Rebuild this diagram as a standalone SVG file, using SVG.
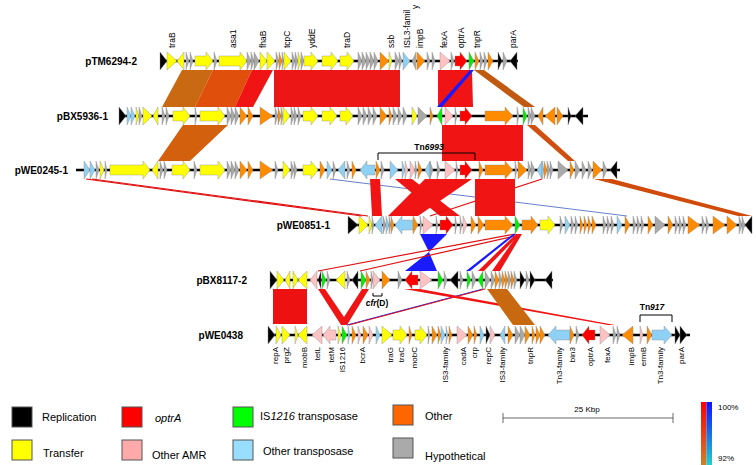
<svg xmlns="http://www.w3.org/2000/svg" width="756" height="465" viewBox="0 0 756 465">
<style>
polygon.g,.gn polygon{stroke:#8a8a8a;stroke-width:0.4}
.k{fill:#000}.y{fill:#ffff00}.o{fill:#ff8c00}.h{fill:#a9a9a9}.p{fill:#ffc2c2}.b{fill:#8fd0f5}.r{fill:#ff0000}.n{fill:#00ee00}
.bb{stroke:#000;stroke-width:2.5}
.lab{font-family:"Liberation Sans",Arial,sans-serif;font-weight:bold;font-size:10px;fill:#000;text-anchor:end}
.gl{font-family:"Liberation Sans",Arial,sans-serif;font-size:8.5px;fill:#000}
.bl{font-family:"Liberation Sans",Arial,sans-serif;font-size:8px;fill:#000;text-anchor:end}
.leg{font-family:"Liberation Sans",Arial,sans-serif;font-size:11px;fill:#000}
.tn{font-family:"Liberation Sans",Arial,sans-serif;font-size:8.5px;font-weight:bold;fill:#000;text-anchor:middle}
.br{fill:none;stroke:#000;stroke-width:1}
.sq{stroke:#555;stroke-width:1}
.cr{fill:#f01414}.cb{fill:#1a1aff}
</style>
<defs>
<linearGradient id="gr1" x1="0" y1="0" x2="0" y2="1"><stop offset="0" stop-color="#ff0000"/><stop offset="1" stop-color="#d0802a"/></linearGradient>
<linearGradient id="gr2" x1="0" y1="0" x2="0" y2="1"><stop offset="0" stop-color="#1010ff"/><stop offset="1" stop-color="#20d0d0"/></linearGradient>
</defs>
<rect width="756" height="465" fill="#fff"/>

<g id="connectors">
<polygon fill="#c96a12" points="182,70 213,70 195,107 162,107"/>
<polygon fill="#e0500c" points="213,70 252,70 235,107 195,107"/>
<polygon class="cr" points="252,70 273,70 253,107 235,107"/>
<polygon fill="#ec1616" points="274,70 400,70 400,107 274,107"/>
<polygon class="cr" points="438,70 472,70 473,107 438,107"/>
<polygon class="cb" points="470,70 474,70 442,107 437,107"/>
<polygon fill="#c05a10" points="474,70 484,70 535,107 524,107"/>
<polygon fill="#d2600c" points="183,125 228,125 190,161 158,161"/>
<polygon class="cr" points="442,125 523,125 523,161 442,161"/>
<polygon fill="#d05010" points="527,125 535,125 575,161 568,161"/>
<line x1="86" y1="179" x2="362" y2="216" stroke="#e01010" stroke-width="1.2"/>
<line x1="92" y1="179" x2="368" y2="216" stroke="#e01010" stroke-width="1.2"/>
<line x1="330" y1="179" x2="627" y2="216" stroke="#4060c0" stroke-width="0.8"/>
<polygon class="cr" points="370,179 380,179 382,216 372,216"/>
<polygon class="cr" points="395,179 412,179 460,216 440,216"/>
<polygon class="cr" points="425,179 472,179 418,216 388,216"/>
<line x1="542" y1="179" x2="430" y2="216" stroke="#e01010" stroke-width="1.2"/>
<polygon class="cr" points="475,179 515,179 515,216 475,216"/>
<polygon fill="#d04a0a" points="594,179 612,179 752,216 738,216"/>
<polygon class="cb" points="420,234 447,234 429,252"/>
<polygon class="cb" points="429,252 405,271 437,271"/>
<line x1="515" y1="234" x2="318" y2="271" stroke="#e01010" stroke-width="1.2"/>
<line x1="515" y1="236" x2="360" y2="271" stroke="#e01010" stroke-width="1.2"/>
<polygon class="cb" points="513,234 516,234 470,271 466,271"/>
<polygon class="cr" points="516,234 520,234 484,271 478,271"/>
<polygon class="cr" points="518,234 522,234 500,271 492,271"/>
<polygon fill="#ee1111" points="273,289 307,289 307,324 273,324"/>
<polygon class="cr" points="318,289 325,289 344,317 362,289 369,289 347,325 341,325"/>
<line x1="483" y1="289" x2="347" y2="325" stroke="#1a1aff" stroke-width="1"/>
<line x1="485" y1="289" x2="349" y2="325" stroke="#e01010" stroke-width="1"/>
<polygon class="cr" points="404,289 420,289 615,325 608,325"/>
<polygon fill="#c8680f" points="487,289 507,289 535,325 513,325"/>
</g>

<g id="pTM6294-2">
<text class="lab" x="137" y="64.5">pTM6294-2</text>
<line x1="160" y1="61" x2="518" y2="61" class="bb"/>
<g class="gn" transform="translate(0,61)">
<polygon class="k" points="160,-9 167,0 160,9"/>
<polygon class="y" points="167,-9 177,0 167,9"/>
<polygon class="y" points="184,-9 177,0 184,9"/>
<polygon class="h" points="186,-9 189,0 186,9"/>
<polygon class="h" points="190,-9 193,0 190,9"/>
<polygon class="y" points="195,-5 206,-5 206,-9 213,0 206,9 206,5 195,5"/>
<polygon class="h" points="214,-9 217,0 214,9"/>
<polygon class="y" points="219,-5 240,-5 240,-9 247,0 240,9 240,5 219,5"/>
<polygon class="h" points="247,-9 251,0 247,9"/>
<polygon class="h" points="251,-9 254,0 251,9"/>
<polygon class="h" points="254,-9 259,0 254,9"/>
<polygon class="y" points="260,-9 267,0 260,9"/>
<polygon class="y" points="267,-9 275,0 267,9"/>
<polygon class="h" points="276,-9 279,0 276,9"/>
<polygon class="o" points="279,-9 282,0 279,9"/>
<polygon class="h" points="282,-9 284,0 282,9"/>
<polygon class="y" points="284,-9 291,0 284,9"/>
<polygon class="h" points="292,-9 295,0 292,9"/>
<polygon class="h" points="295,-9 298,0 295,9"/>
<polygon class="y" points="298,-9 301,0 298,9"/>
<polygon class="h" points="301,-9 304,0 301,9"/>
<polygon class="y" points="304,-5 311,-5 311,-9 318,0 311,9 311,5 304,5"/>
<polygon class="y" points="322,-5 331,-5 331,-9 338,0 331,9 331,5 322,5"/>
<polygon class="y" points="340,-5 347,-5 347,-9 354,0 347,9 347,5 340,5"/>
<polygon class="h" points="358,-9 362,0 358,9"/>
<polygon class="h" points="362,-9 366,0 362,9"/>
<polygon class="h" points="366,-9 370,0 366,9"/>
<polygon class="h" points="370,-9 374,0 370,9"/>
<polygon class="h" points="374,-9 378,0 374,9"/>
<polygon class="o" points="380,-9 389,0 380,9"/>
<polygon class="y" points="389,-9 392,0 389,9"/>
<polygon class="h" points="395,-9 399,0 395,9"/>
<polygon class="h" points="399,-9 402,0 399,9"/>
<polygon class="b" points="403,-9 410,0 403,9"/>
<polygon class="h" points="416,-9 412,0 416,9"/>
<polygon class="o" points="417,-9 425,0 417,9"/>
<polygon class="h" points="427,-9 430,0 427,9"/>
<polygon class="h" points="432,-9 435,0 432,9"/>
<polygon class="p" points="440,-9 450,0 440,9"/>
<polygon class="h" points="451,-9 454,0 451,9"/>
<polygon class="r" points="455,-5 460,-5 460,-9 467,0 460,9 460,5 455,5"/>
<polygon class="n" points="469,-9 474,0 469,9"/>
<polygon class="o" points="475,-9 479,0 475,9"/>
<polygon class="h" points="480,-9 483,0 480,9"/>
<polygon class="h" points="484,-9 487,0 484,9"/>
<polygon class="o" points="488,-9 493,0 488,9"/>
<polygon class="k" points="498,-9 502,0 498,9"/>
<polygon class="h" points="503,-9 507,0 503,9"/>
<polygon class="k" points="517,-9 510,0 517,9"/>
</g>
<g class="gl">
<text transform="translate(175,48) rotate(-90)">traB</text>
<text transform="translate(236,48) rotate(-90)">asa1</text>
<text transform="translate(266,48) rotate(-90)">fhaB</text>
<text transform="translate(290,48) rotate(-90)">tcpC</text>
<text transform="translate(315,48) rotate(-90)">yddE</text>
<text transform="translate(350,48) rotate(-90)">traD</text>
<text transform="translate(394,48) rotate(-90)">ssb</text>
<text transform="translate(410,48) rotate(-90)">ISL3-famil</text>
<text transform="translate(418,9) rotate(-90)">y</text>
<text transform="translate(423,48) rotate(-90)">impB</text>
<text transform="translate(447,48) rotate(-90)">fexA</text>
<text transform="translate(464,48) rotate(-90)">optrA</text>
<text transform="translate(480,48) rotate(-90)">tnpR</text>
<text transform="translate(516,48) rotate(-90)">parA</text>
</g>
</g>

<g id="pBX5936-1">
<text class="lab" x="108" y="119.5">pBX5936-1</text>
<line x1="119" y1="116" x2="588" y2="116" class="bb"/>
<g class="gn" transform="translate(0,116)">
<polygon class="k" points="119,-9 126,0 119,9"/>
<polygon class="b" points="127,-9 131,0 127,9"/>
<polygon class="b" points="131,-9 135,0 131,9"/>
<polygon class="y" points="136,-9 139,0 136,9"/>
<polygon class="h" points="139,-9 142,0 139,9"/>
<polygon class="y" points="143,-9 152,0 143,9"/>
<polygon class="y" points="158,-9 153,0 158,9"/>
<polygon class="h" points="162,-9 165,0 162,9"/>
<polygon class="h" points="166,-9 169,0 166,9"/>
<polygon class="y" points="173,-5 183,-5 183,-9 190,0 183,9 183,5 173,5"/>
<polygon class="h" points="195,-9 197,0 195,9"/>
<polygon class="y" points="200,-5 218,-5 218,-9 225,0 218,9 218,5 200,5"/>
<polygon class="h" points="227,-9 231,0 227,9"/>
<polygon class="h" points="231,-9 235,0 231,9"/>
<polygon class="h" points="235,-9 239,0 235,9"/>
<polygon class="o" points="240,-9 247,0 240,9"/>
<polygon class="o" points="248,-9 253,0 248,9"/>
<polygon class="o" points="260,-9 273,0 260,9"/>
<polygon class="h" points="275,-9 278,0 275,9"/>
<polygon class="o" points="278,-9 281,0 278,9"/>
<polygon class="h" points="281,-9 283,0 281,9"/>
<polygon class="y" points="283,-9 290,0 283,9"/>
<polygon class="h" points="291,-9 294,0 291,9"/>
<polygon class="h" points="294,-9 297,0 294,9"/>
<polygon class="h" points="298,-9 301,0 298,9"/>
<polygon class="y" points="303,-5 311,-5 311,-9 318,0 311,9 311,5 303,5"/>
<polygon class="y" points="322,-5 330,-5 330,-9 337,0 330,9 330,5 322,5"/>
<polygon class="y" points="340,-5 346,-5 346,-9 353,0 346,9 346,5 340,5"/>
<polygon class="h" points="358,-9 362,0 358,9"/>
<polygon class="h" points="363,-9 367,0 363,9"/>
<polygon class="h" points="368,-9 372,0 368,9"/>
<polygon class="h" points="373,-9 377,0 373,9"/>
<polygon class="o" points="380,-9 387,0 380,9"/>
<polygon class="o" points="389,-9 392,0 389,9"/>
<polygon class="h" points="393,-9 397,0 393,9"/>
<polygon class="h" points="398,-9 402,0 398,9"/>
<polygon class="h" points="403,-9 407,0 403,9"/>
<polygon class="y" points="412,-9 417,0 412,9"/>
<polygon class="h" points="418,-9 427,0 418,9"/>
<polygon class="o" points="430,-9 433,0 430,9"/>
<polygon class="n" points="442,-9 437,0 442,9"/>
<polygon class="p" points="445,-9 453,0 445,9"/>
<polygon class="h" points="455,-9 457,0 455,9"/>
<polygon class="r" points="460,-5 465,-5 465,-9 472,0 465,9 465,5 460,5"/>
<polygon class="o" points="485,-5 505,-5 505,-9 513,0 505,9 505,5 485,5"/>
<polygon class="h" points="517,-9 519,0 517,9"/>
<polygon class="n" points="523,-9 527,0 523,9"/>
<polygon class="h" points="528,-9 531,0 528,9"/>
<polygon class="h" points="531,-9 535,0 531,9"/>
<polygon class="o" points="543,-9 538,0 543,9"/>
<polygon class="o" points="555,-9 545,0 555,9"/>
<polygon class="o" points="557,-9 563,0 557,9"/>
<polygon class="k" points="568,-9 571,0 568,9"/>
<polygon class="k" points="583,-9 575,0 583,9"/>
</g>
</g>

<g id="pWE0245-1">
<text class="lab" x="68" y="173.5">pWE0245-1</text>
<path class="br" d="M378,160 V153 H475 V160"/>
<text class="tn" x="429" y="150">Tn<tspan font-style="italic">6993</tspan></text>
<line x1="76" y1="170" x2="620" y2="170" class="bb"/>
<g class="gn" transform="translate(0,170)">
<polygon class="b" points="84,-9 90,0 84,9"/>
<polygon class="b" points="90,-9 95,0 90,9"/>
<polygon class="h" points="96,-9 99,0 96,9"/>
<polygon class="y" points="100,-9 104,0 100,9"/>
<polygon class="h" points="105,-9 107,0 105,9"/>
<polygon class="y" points="110,-5 143,-5 143,-9 150,0 143,9 143,5 110,5"/>
<polygon class="y" points="158,-9 152,0 158,9"/>
<polygon class="h" points="160,-9 163,0 160,9"/>
<polygon class="h" points="164,-9 167,0 164,9"/>
<polygon class="y" points="172,-5 183,-5 183,-9 190,0 183,9 183,5 172,5"/>
<polygon class="h" points="194,-9 197,0 194,9"/>
<polygon class="y" points="200,-5 218,-5 218,-9 225,0 218,9 218,5 200,5"/>
<polygon class="h" points="227,-9 231,0 227,9"/>
<polygon class="h" points="231,-9 235,0 231,9"/>
<polygon class="h" points="235,-9 239,0 235,9"/>
<polygon class="o" points="240,-9 247,0 240,9"/>
<polygon class="o" points="248,-9 253,0 248,9"/>
<polygon class="o" points="260,-9 273,0 260,9"/>
<polygon class="h" points="275,-9 278,0 275,9"/>
<polygon class="y" points="283,-9 290,0 283,9"/>
<polygon class="h" points="291,-9 294,0 291,9"/>
<polygon class="h" points="294,-9 297,0 294,9"/>
<polygon class="y" points="303,-5 311,-5 311,-9 318,0 311,9 311,5 303,5"/>
<polygon class="o" points="320,-9 325,0 320,9"/>
<polygon class="b" points="327,-9 332,0 327,9"/>
<polygon class="h" points="333,-9 336,0 333,9"/>
<polygon class="b" points="345,-9 338,0 345,9"/>
<polygon class="h" points="347,-9 350,0 347,9"/>
<polygon class="o" points="352,-9 356,0 352,9"/>
<polygon class="b" points="375,-5 367,-5 367,-9 360,0 367,9 367,5 375,5"/>
<polygon class="o" points="376,-9 380,0 376,9"/>
<polygon class="h" points="381,-9 384,0 381,9"/>
<polygon class="b" points="390,-9 398,0 390,9"/>
<polygon class="b" points="402,-9 405,0 402,9"/>
<polygon class="p" points="405,-9 408,0 405,9"/>
<polygon class="p" points="410,-9 415,0 410,9"/>
<polygon class="h" points="415,-9 417,0 415,9"/>
<polygon class="o" points="418,-9 422,0 418,9"/>
<polygon class="b" points="430,-9 425,0 430,9"/>
<polygon class="h" points="430,-9 433,0 430,9"/>
<polygon class="h" points="437,-9 440,0 437,9"/>
<polygon class="p" points="445,-9 455,0 445,9"/>
<polygon class="h" points="456,-9 458,0 456,9"/>
<polygon class="r" points="460,-5 465,-5 465,-9 472,0 465,9 465,5 460,5"/>
<polygon class="o" points="479,-9 483,0 479,9"/>
<polygon class="o" points="485,-5 505,-5 505,-9 513,0 505,9 505,5 485,5"/>
<polygon class="h" points="515,-9 517,0 515,9"/>
<polygon class="o" points="518,-9 527,0 518,9"/>
<polygon class="h" points="528,-9 531,0 528,9"/>
<polygon class="h" points="531,-9 535,0 531,9"/>
<polygon class="b" points="542,-9 537,0 542,9"/>
<polygon class="b" points="542,-9 544,0 542,9"/>
<polygon class="o" points="544,-9 547,0 544,9"/>
<polygon class="h" points="547,-9 550,0 547,9"/>
<polygon class="h" points="550,-9 553,0 550,9"/>
<polygon class="h" points="558,-9 568,0 558,9"/>
<polygon class="o" points="570,-9 574,0 570,9"/>
<polygon class="h" points="575,-9 580,0 575,9"/>
<polygon class="h" points="582,-9 586,0 582,9"/>
<polygon class="h" points="588,-9 592,0 588,9"/>
<polygon class="o" points="593,-9 602,0 593,9"/>
<polygon class="h" points="603,-9 607,0 603,9"/>
<polygon class="k" points="617,-9 610,0 617,9"/>
</g>
</g>

<g id="pWE0851-1">
<text class="lab" x="330" y="228.5">pWE0851-1</text>
<line x1="348" y1="225" x2="752" y2="225" class="bb"/>
<g class="gn" transform="translate(0,225)">
<polygon class="k" points="348,-9 358,0 348,9"/>
<polygon class="y" points="359,-9 368,0 359,9"/>
<polygon class="y" points="369,-9 372,0 369,9"/>
<polygon class="h" points="372,-9 374,0 372,9"/>
<polygon class="b" points="382,-9 375,0 382,9"/>
<polygon class="h" points="383,-9 386,0 383,9"/>
<polygon class="b" points="386,-9 389,0 386,9"/>
<polygon class="h" points="389,-9 391,0 389,9"/>
<polygon class="o" points="391,-9 394,0 391,9"/>
<polygon class="b" points="413,-5 402,-5 402,-9 395,0 402,9 402,5 413,5"/>
<polygon class="o" points="413,-9 418,0 413,9"/>
<polygon class="h" points="420,-9 422,0 420,9"/>
<polygon class="p" points="423,-9 433,0 423,9"/>
<polygon class="h" points="436,-9 438,0 436,9"/>
<polygon class="r" points="440,-5 446,-5 446,-9 453,0 446,9 446,5 440,5"/>
<polygon class="h" points="455,-9 457,0 455,9"/>
<polygon class="h" points="460,-9 462,0 460,9"/>
<polygon class="p" points="463,-9 467,0 463,9"/>
<polygon class="o" points="471,-9 476,0 471,9"/>
<polygon class="o" points="478,-9 484,0 478,9"/>
<polygon class="o" points="485,-5 505,-5 505,-9 513,0 505,9 505,5 485,5"/>
<polygon class="n" points="515,-9 520,0 515,9"/>
<polygon class="o" points="522,-5 531,-5 531,-9 538,0 531,9 531,5 522,5"/>
<polygon class="y" points="540,-5 548,-5 548,-9 555,0 548,9 548,5 540,5"/>
<polygon class="h" points="560,-9 563,0 560,9"/>
<polygon class="b" points="565,-9 570,0 565,9"/>
<polygon class="h" points="571,-9 574,0 571,9"/>
<polygon class="h" points="575,-9 578,0 575,9"/>
<polygon class="o" points="580,-9 583,0 580,9"/>
<polygon class="o" points="584,-9 587,0 584,9"/>
<polygon class="o" points="588,-9 591,0 588,9"/>
<polygon class="o" points="592,-9 596,0 592,9"/>
<polygon class="h" points="603,-9 606,0 603,9"/>
<polygon class="h" points="607,-9 610,0 607,9"/>
<polygon class="h" points="611,-9 614,0 611,9"/>
<polygon class="b" points="617,-9 622,0 617,9"/>
<polygon class="o" points="625,-9 630,0 625,9"/>
<polygon class="h" points="633,-9 636,0 633,9"/>
<polygon class="h" points="637,-9 640,0 637,9"/>
<polygon class="h" points="641,-9 644,0 641,9"/>
<polygon class="o" points="648,-9 653,0 648,9"/>
<polygon class="h" points="655,-9 665,0 655,9"/>
<polygon class="o" points="668,-9 673,0 668,9"/>
<polygon class="h" points="675,-9 678,0 675,9"/>
<polygon class="h" points="679,-9 682,0 679,9"/>
<polygon class="h" points="683,-9 686,0 683,9"/>
<polygon class="o" points="688,-9 700,0 688,9"/>
<polygon class="h" points="702,-9 705,0 702,9"/>
<polygon class="h" points="706,-9 709,0 706,9"/>
<polygon class="o" points="713,-9 725,0 713,9"/>
<polygon class="o" points="727,-9 737,0 727,9"/>
<polygon class="h" points="739,-9 742,0 739,9"/>
<polygon class="h" points="742,-9 745,0 742,9"/>
<polygon class="k" points="752,-9 745,0 752,9"/>
</g>
</g>

<g id="pBX8117-2">
<text class="lab" x="247" y="283.5">pBX8117-2</text>
<line x1="270" y1="280" x2="553" y2="280" class="bb"/>
<g class="gn" transform="translate(0,280)">
<polygon class="k" points="270,-9 277,0 270,9"/>
<polygon class="y" points="277,-9 284,0 277,9"/>
<polygon class="y" points="290,-9 285,0 290,9"/>
<polygon class="y" points="293,-9 298,0 293,9"/>
<polygon class="y" points="307,-9 298,0 307,9"/>
<polygon class="p" points="317,-9 310,0 317,9"/>
<polygon class="k" points="321,-9 318,0 321,9"/>
<polygon class="n" points="322,-9 326,0 322,9"/>
<polygon class="h" points="327,-9 330,0 327,9"/>
<polygon class="y" points="345,-9 336,0 345,9"/>
<polygon class="h" points="347,-9 350,0 347,9"/>
<polygon class="k" points="358,-9 352,0 358,9"/>
<polygon class="n" points="361,-9 366,0 361,9"/>
<polygon class="o" points="366,-9 370,0 366,9"/>
<polygon class="h" points="371,-9 373,0 371,9"/>
<polygon class="p" points="373,-9 380,0 373,9"/>
<polygon class="o" points="382,-9 390,0 382,9"/>
<polygon class="h" points="398,-9 402,0 398,9"/>
<polygon class="r" points="418,-5 412,-5 412,-9 405,0 412,9 412,5 418,5"/>
<polygon class="p" points="420,-9 432,0 420,9"/>
<polygon class="n" points="438,-9 443,0 438,9"/>
<polygon class="h" points="444,-9 447,0 444,9"/>
<polygon class="k" points="458,-9 450,0 458,9"/>
<polygon class="h" points="460,-9 463,0 460,9"/>
<polygon class="n" points="467,-9 471,0 467,9"/>
<polygon class="h" points="472,-9 476,0 472,9"/>
<polygon class="n" points="483,-9 478,0 483,9"/>
<polygon class="h" points="485,-9 490,0 485,9"/>
<polygon class="h" points="491,-9 495,0 491,9"/>
<polygon class="o" points="495,-9 499,0 495,9"/>
<polygon class="h" points="499,-9 502,0 499,9"/>
<polygon class="o" points="502,-9 505,0 502,9"/>
<polygon class="o" points="505,-9 508,0 505,9"/>
<polygon class="h" points="508,-9 511,0 508,9"/>
<polygon class="o" points="511,-9 514,0 511,9"/>
<polygon class="h" points="514,-9 517,0 514,9"/>
<polygon class="k" points="520,-9 525,0 520,9"/>
<polygon class="h" points="526,-9 529,0 526,9"/>
<polygon class="k" points="530,-9 535,0 530,9"/>
<polygon class="k" points="552,-9 545,0 552,9"/>
</g>
<path class="br" d="M373,293 V296 H382 V293"/>
<text class="tn" x="377" y="306" font-size="7"><tspan font-style="italic">cfr</tspan>(D)</text>
</g>

<g id="pWE0438">
<text class="lab" x="243" y="338.5">pWE0438</text>
<path class="br" d="M640,322 V315 H672 V322"/>
<text class="tn" x="652" y="310">Tn<tspan font-style="italic">917</tspan></text>
<line x1="268" y1="335" x2="690" y2="335" class="bb"/>
<g class="gn" transform="translate(0,335)">
<polygon class="k" points="268,-9 275,0 268,9"/>
<polygon class="y" points="276,-9 281,0 276,9"/>
<polygon class="y" points="282,-9 290,0 282,9"/>
<polygon class="y" points="295,-9 298,0 295,9"/>
<polygon class="y" points="307,-9 298,0 307,9"/>
<polygon class="p" points="322,-9 312,0 322,9"/>
<polygon class="p" points="336,-5 330,-5 330,-9 323,0 330,9 330,5 336,5"/>
<polygon class="y" points="338,-9 341,0 338,9"/>
<polygon class="n" points="342,-9 347,0 342,9"/>
<polygon class="b" points="348,-9 350,0 348,9"/>
<polygon class="o" points="352,-9 356,0 352,9"/>
<polygon class="p" points="358,-9 361,0 358,9"/>
<polygon class="o" points="363,-9 368,0 363,9"/>
<polygon class="p" points="369,-9 373,0 369,9"/>
<polygon class="b" points="376,-9 380,0 376,9"/>
<polygon class="y" points="382,-9 392,0 382,9"/>
<polygon class="y" points="393,-5 400,-5 400,-9 407,0 400,9 400,5 393,5"/>
<polygon class="o" points="409,-9 412,0 409,9"/>
<polygon class="y" points="415,-5 420,-5 420,-9 427,0 420,9 420,5 415,5"/>
<polygon class="h" points="428,-9 430,0 428,9"/>
<polygon class="o" points="432,-9 437,0 432,9"/>
<polygon class="o" points="438,-9 441,0 438,9"/>
<polygon class="b" points="441,-9 445,0 441,9"/>
<polygon class="b" points="446,-9 448,0 446,9"/>
<polygon class="o" points="449,-9 452,0 449,9"/>
<polygon class="p" points="457,-9 467,0 457,9"/>
<polygon class="o" points="468,-9 473,0 468,9"/>
<polygon class="o" points="474,-9 477,0 474,9"/>
<polygon class="b" points="480,-9 484,0 480,9"/>
<polygon class="k" points="486,-9 490,0 486,9"/>
<polygon class="p" points="490,-9 495,0 490,9"/>
<polygon class="b" points="505,-9 500,0 505,9"/>
<polygon class="o" points="508,-9 513,0 508,9"/>
<polygon class="h" points="515,-9 520,0 515,9"/>
<polygon class="h" points="520,-9 525,0 520,9"/>
<polygon class="o" points="525,-9 530,0 525,9"/>
<polygon class="o" points="532,-9 535,0 532,9"/>
<polygon class="o" points="536,-9 540,0 536,9"/>
<polygon class="o" points="540,-9 545,0 540,9"/>
<polygon class="b" points="570,-5 556,-5 556,-9 548,0 556,9 556,5 570,5"/>
<polygon class="o" points="570,-9 574,0 570,9"/>
<polygon class="h" points="576,-9 579,0 576,9"/>
<polygon class="r" points="595,-5 589,-5 589,-9 582,0 589,9 589,5 595,5"/>
<polygon class="p" points="600,-9 610,0 600,9"/>
<polygon class="h" points="613,-9 616,0 613,9"/>
<polygon class="h" points="617,-9 620,0 617,9"/>
<polygon class="o" points="633,-9 622,0 633,9"/>
<polygon class="p" points="640,-9 643,0 640,9"/>
<polygon class="o" points="647,-9 652,0 647,9"/>
<polygon class="b" points="652,-5 664,-5 664,-9 672,0 664,9 664,5 652,5"/>
<polygon class="k" points="675,-9 680,0 675,9"/>
<polygon class="k" points="680,-9 687,0 680,9"/>
</g>
<g class="bl">
<text transform="translate(278,347) rotate(-90)">repA</text>
<text transform="translate(289,347) rotate(-90)">prgZ</text>
<text transform="translate(307,347) rotate(-90)">mobB</text>
<text transform="translate(320,347) rotate(-90)">tetL</text>
<text transform="translate(334,347) rotate(-90)">tetM</text>
<text transform="translate(345,347) rotate(-90)">IS1216</text>
<text transform="translate(365,347) rotate(-90)">bcrA</text>
<text transform="translate(393,347) rotate(-90)">traG</text>
<text transform="translate(404,347) rotate(-90)">traC</text>
<text transform="translate(417,347) rotate(-90)">mobC</text>
<text transform="translate(448,347) rotate(-90)">IS3-family</text>
<text transform="translate(466,347) rotate(-90)">cadA</text>
<text transform="translate(477,347) rotate(-90)">crp</text>
<text transform="translate(491,347) rotate(-90)">repC</text>
<text transform="translate(505,347) rotate(-90)">IS3-family</text>
<text transform="translate(533,347) rotate(-90)">tnpR</text>
<text transform="translate(562,347) rotate(-90)">Tn3-family</text>
<text transform="translate(575,347) rotate(-90)">bin3</text>
<text transform="translate(593,347) rotate(-90)">optrA</text>
<text transform="translate(610,347) rotate(-90)">fexA</text>
<text transform="translate(634,347) rotate(-90)">impB</text>
<text transform="translate(646,347) rotate(-90)">ermB</text>
<text transform="translate(663,347) rotate(-90)">Tn3-family</text>
<text transform="translate(684,347) rotate(-90)">parA</text>
</g>
</g>

<g id="legend">
<rect class="sq" x="12" y="407" width="20" height="20" fill="#000"/>
<text class="leg" x="42" y="421">Replication</text>
<rect class="sq" x="122" y="407" width="20" height="20" fill="#ff0000"/>
<text class="leg" x="155" y="422" font-style="italic">optrA</text>
<rect class="sq" x="233" y="407" width="20" height="20" fill="#00ff00"/>
<text class="leg" x="260" y="420">IS<tspan font-style="italic">1216</tspan> transposase</text>
<rect class="sq" x="12" y="440" width="20" height="20" fill="#ffff00"/>
<text class="leg" x="43" y="457">Transfer</text>
<rect class="sq" x="122" y="440" width="20" height="20" fill="#ffaaaa"/>
<text class="leg" x="152" y="459">Other AMR</text>
<rect class="sq" x="233" y="440" width="20" height="20" fill="#99ddff"/>
<text class="leg" x="263" y="455">Other transposase</text>
<rect class="sq" x="393" y="405" width="20" height="20" fill="#ff6600"/>
<text class="leg" x="425" y="420">Other</text>
<rect class="sq" x="393" y="438" width="20" height="20" fill="#aaaaaa"/>
<text class="leg" x="425" y="460">Hypothetical</text>
<line x1="503" y1="418" x2="673" y2="418" stroke="#444" stroke-width="0.8"/>
<line x1="503" y1="413" x2="503" y2="423" stroke="#444" stroke-width="0.8"/>
<line x1="673" y1="413" x2="673" y2="423" stroke="#444" stroke-width="0.8"/>
<text x="587" y="412" font-family="Liberation Sans,Arial,sans-serif" font-size="8px" text-anchor="middle">25 Kbp</text>
<rect x="701" y="402" width="5.5" height="63" fill="url(#gr1)"/>
<rect x="706.5" y="402" width="5.5" height="63" fill="url(#gr2)"/>
<text x="718" y="410" font-family="Liberation Sans,Arial,sans-serif" font-size="8px">100%</text>
<text x="718" y="461" font-family="Liberation Sans,Arial,sans-serif" font-size="8px">92%</text>
</g>
</svg>
